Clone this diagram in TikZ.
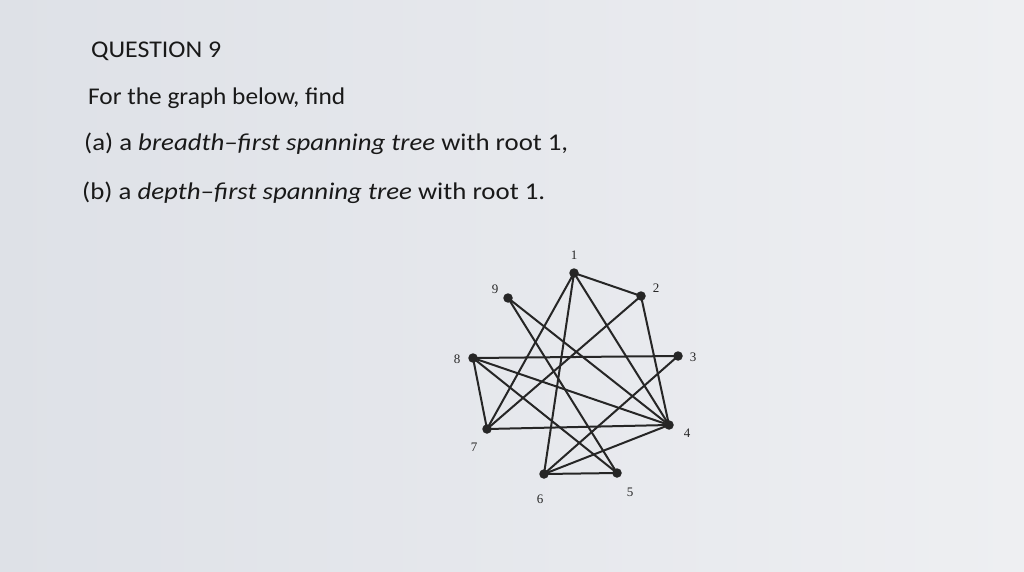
\documentclass[tikz,border=0pt]{standalone}
\usepackage{fontspec}
\usepackage{graphicx}
\setmainfont{Carlito}
\newfontfamily\numfont{Liberation Serif}
\begin{document}
\begin{tikzpicture}[x=1pt,y=-1pt,
  txt/.style={anchor=base west,inner sep=0pt,text=black!90,font=\fontsize{24}{28}\selectfont},
  vtx/.style={circle,fill=black!85,inner sep=0pt,minimum size=9.5pt},
  lab/.style={inner sep=0pt,text=black!85,font=\numfont\fontsize{13}{15}\selectfont},
  edge/.style={line width=2pt,draw=black!85}]
\useasboundingbox (0,0) rectangle (1024,572);
\shade[left color={rgb,255:red,222;green,225;blue,231},right color={rgb,255:red,238;green,239;blue,242}] (0,0) rectangle (1024,572);
\node[txt] (q) at (91,58) {\resizebox{130pt}{\height}{QUESTION 9}};
\node[txt] (l1) at (88,105) {\resizebox{257pt}{\height}{For the graph below, find}};
\node[txt] (l2) at (84,150) {\resizebox{484pt}{\height}{(a) a \textit{breadth–first spanning tree} with root 1,}};
\node[txt] (l3) at (82,199) {\resizebox{463pt}{\height}{(b) a \textit{depth–first spanning tree} with root 1.}};
\node[vtx] (n1) at (574,273) {};
\node[vtx] (n2) at (641,296) {};
\node[vtx] (n9) at (508,298) {};
\node[vtx] (n8) at (473,358) {};
\node[vtx] (n3) at (678,356) {};
\node[vtx] (n7) at (487,429) {};
\node[vtx] (n4) at (669,425) {};
\node[vtx] (n6) at (544,474) {};
\node[vtx] (n5) at (617,473) {};
\node[lab] (t1) at (574,255) {1};
\node[lab] (t2) at (656,288) {2};
\node[lab] (t9) at (495,289) {9};
\node[lab] (t8) at (457,359) {8};
\node[lab] (t3) at (693,357) {3};
\node[lab] (t7) at (474,447) {7};
\node[lab] (t4) at (687,433) {4};
\node[lab] (t6) at (540,499) {6};
\node[lab] (t5) at (630,492) {5};
\foreach \a/\b in {n1/n2,n1/n7,n1/n6,n1/n4,n2/n7,n2/n4,n9/n4,n9/n5,n8/n3,n8/n7,n8/n4,n8/n5,n7/n4,n3/n6,n4/n6,n6/n5}
  \draw[edge] (\a.center) -- (\b.center);
\end{tikzpicture}
\end{document}
